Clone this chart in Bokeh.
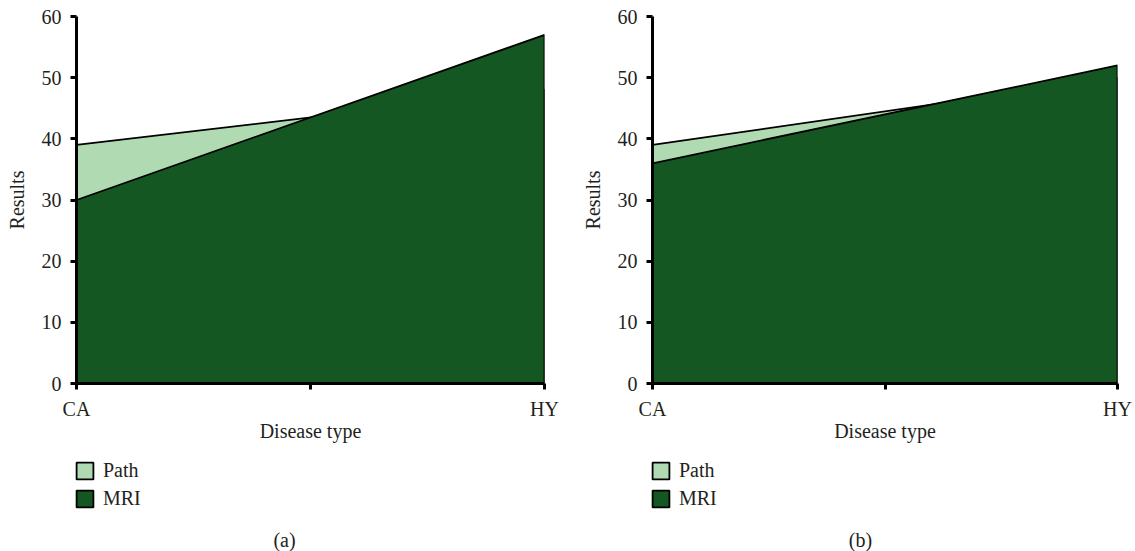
from bokeh.plotting import figure
from bokeh.models import Range1d, FixedTicker, Legend, LegendItem, Label
from bokeh.layouts import row, column
from bokeh.embed import file_html
from bokeh.resources import INLINE

categories = ["CA", "HY"]
path_a = [39, 48]
mri_a = [30, 57]
path_b = [39, 50]
mri_b = [36, 52]
y_ticks = [0, 10, 20, 30, 40, 50, 60]
series_names = ["Path", "MRI"]
colors = ["#b0dbb2", "#155722"]

FONT = "Liberation Serif"
TXT = "#231f20"
FS = "20px"
TOP_H = 448
BOT_H = 103


def area_patches(p, path_vals, mri_vals):
    xs = list(range(len(categories)))
    rs = []
    for vals, col in zip([path_vals, mri_vals], colors):
        px = [xs[0]] + xs + [xs[-1]]
        py = [0] + list(vals) + [0]
        rs.append(p.patch(px, py, fill_color=col, line_color="black", line_width=1.8))
    return rs


def make_panel(path_vals, mri_vals, width, left, right):
    p = figure(width=width, height=TOP_H, output_backend="svg", toolbar_location=None,
               x_range=Range1d(0, len(categories) - 1), y_range=Range1d(0, 60),
               min_border_left=left, min_border_right=right, min_border_top=16,
               min_border_bottom=65)
    p.outline_line_color = None
    p.grid.visible = False
    area_patches(p, path_vals, mri_vals)

    p.xaxis.ticker = FixedTicker(ticks=[0, 0.5, 1])
    p.xaxis.major_label_overrides = {0: categories[0], 0.5: "", 1: categories[1]}
    p.yaxis.ticker = FixedTicker(ticks=y_ticks)
    for ax in (p.xaxis, p.yaxis):
        ax.axis_line_width = 3
        ax.axis_line_color = "black"
        ax.major_tick_line_width = 3
        ax.major_tick_line_color = "black"
        ax.major_tick_out = 6
        ax.major_tick_in = 0
        ax.minor_tick_line_color = None
        ax.major_label_text_font = FONT
        ax.major_label_text_font_size = FS
        ax.major_label_text_color = TXT
        ax.axis_label_text_font = FONT
        ax.axis_label_text_font_size = FS
        ax.axis_label_text_font_style = "normal"
        ax.axis_label_text_color = TXT
    p.xaxis.axis_label = "Disease type"
    p.yaxis.axis_label = "Results"
    p.xaxis.major_label_standoff = 8
    p.xaxis.axis_label_standoff = -3
    p.yaxis.major_label_standoff = 9
    p.yaxis.axis_label_standoff = 11
    return p


def make_legend_panel(path_vals, mri_vals, caption, width):
    q = figure(width=width, height=BOT_H, output_backend="svg", toolbar_location=None,
               x_range=Range1d(10, 11), y_range=Range1d(100, 101),
               x_axis_type=None, y_axis_type=None, min_border=0)
    q.outline_line_color = None
    q.grid.visible = False
    rs = area_patches(q, path_vals, mri_vals)  # legend swatches only (out of view)
    legend = Legend(items=[LegendItem(label=n, renderers=[r]) for n, r in zip(series_names, rs)],
                    location=(74, 41), orientation="vertical",
                    glyph_width=21, glyph_height=21, label_height=21, spacing=5,
                    label_standoff=8, padding=0, margin=0,
                    border_line_color=None, background_fill_alpha=0,
                    label_text_font=FONT, label_text_font_size=FS, label_text_color=TXT)
    q.add_layout(legend, "center")
    q.add_layout(Label(x=284, y=12, x_units="screen", y_units="screen", text=caption,
                       text_align="center", text_baseline="middle",
                       text_font=FONT, text_font_size=FS, text_color=TXT))
    return q


pa = make_panel(path_a, mri_a, 576, 76, 32)
pb = make_panel(path_b, mri_b, 559, 76, 18)
la = make_legend_panel(path_a, mri_a, "(a)", 576)
lb = make_legend_panel(path_b, mri_b, "(b)", 559)
layout = column(row(pa, pb, spacing=0), row(la, lb, spacing=0), spacing=0)

open("out.html", "w").write(file_html(layout, INLINE))
